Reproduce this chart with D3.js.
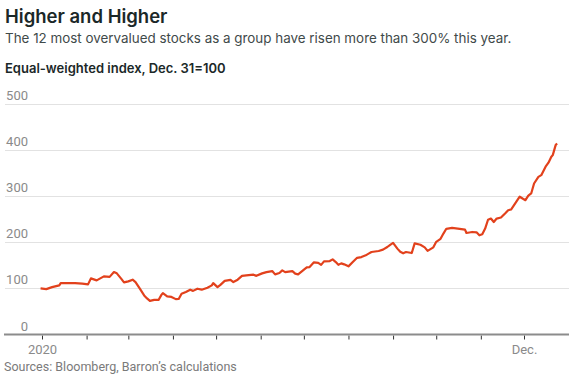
<!DOCTYPE html>
<html>
<head>
<meta charset="utf-8">
<script src="https://cdn.jsdelivr.net/npm/d3@7"></script>
<style>
  html, body { margin: 0; padding: 0; background: #fff; }
  #chart { width: 569px; height: 378px; }
</style>
</head>
<body>
<div id="chart"></div>
<script>
/* Chart data */
const dates = [
  '2019-12-31', '2020-01-04', '2020-01-08', '2020-01-13', '2020-01-14', '2020-01-18', '2020-01-24', '2020-01-29',
  '2020-02-02', '2020-02-04', '2020-02-08', '2020-02-13', '2020-02-17', '2020-02-20', '2020-02-22', '2020-02-25',
  '2020-02-27', '2020-03-01', '2020-03-04', '2020-03-06', '2020-03-09', '2020-03-12', '2020-03-14', '2020-03-16',
  '2020-03-19', '2020-03-22', '2020-03-24', '2020-03-25', '2020-03-28', '2020-03-31', '2020-04-03', '2020-04-05',
  '2020-04-07', '2020-04-10', '2020-04-13', '2020-04-15', '2020-04-18', '2020-04-21', '2020-04-25', '2020-04-28',
  '2020-04-29', '2020-05-02', '2020-05-04', '2020-05-07', '2020-05-11', '2020-05-13', '2020-05-16', '2020-05-19',
  '2020-05-22', '2020-05-27', '2020-05-29', '2020-06-02', '2020-06-05', '2020-06-09', '2020-06-11', '2020-06-14',
  '2020-06-16', '2020-06-18', '2020-06-23', '2020-06-25', '2020-06-27', '2020-06-30', '2020-07-03', '2020-07-05',
  '2020-07-08', '2020-07-11', '2020-07-13', '2020-07-15', '2020-07-19', '2020-07-21', '2020-07-23', '2020-07-25',
  '2020-07-27', '2020-07-29', '2020-08-01', '2020-08-04', '2020-08-07', '2020-08-10', '2020-08-13', '2020-08-15',
  '2020-08-17', '2020-08-22', '2020-08-25', '2020-08-28', '2020-08-30', '2020-09-01', '2020-09-04', '2020-09-06',
  '2020-09-08', '2020-09-10', '2020-09-14', '2020-09-16', '2020-09-20', '2020-09-23', '2020-09-25', '2020-09-29',
  '2020-10-01', '2020-10-04', '2020-10-06', '2020-10-08', '2020-10-12', '2020-10-16', '2020-10-21', '2020-10-22',
  '2020-10-26', '2020-10-29', '2020-10-31', '2020-11-02', '2020-11-04', '2020-11-06', '2020-11-08', '2020-11-10',
  '2020-11-12', '2020-11-15', '2020-11-18', '2020-11-20', '2020-11-22', '2020-11-25', '2020-11-28', '2020-11-30',
  '2020-12-02', '2020-12-04', '2020-12-06', '2020-12-08', '2020-12-11', '2020-12-13', '2020-12-16', '2020-12-18',
  '2020-12-20', '2020-12-21', '2020-12-23', '2020-12-24'
];

const indexValues = [
  100, 98.5, 102.8, 106.5, 111.5, 111.5, 111.5, 110.2,
  108.7, 121.7, 117.4, 126.1, 125, 135.4, 132.6, 121.1,
  113, 115.2, 118.9, 113.7, 99.3, 84.8, 78.3, 72.8,
  75, 75, 85.9, 89.8, 82.6, 81.5, 76.7, 77.2,
  88.5, 92.4, 97.2, 94.6, 99.3, 97.2, 101.5, 106.5,
  111.5, 102.8, 107.6, 116.3, 118.5, 113.7, 118.9, 127.2,
  128.3, 129.8, 127.2, 132.6, 135.4, 137.6, 130.4, 133.3,
  139.1, 135.4, 137.6, 132, 130.4, 138, 145.7, 146.3,
  156.5, 155.4, 151.1, 158.7, 159.3, 163, 157.6, 151.1,
  154.3, 152.2, 147.8, 157.2, 166.3, 168, 171.7, 175.4,
  178.9, 181.1, 184.1, 189.8, 194.6, 198.9, 186.3, 179.3,
  176.1, 178.9, 176.7, 197.8, 194.6, 189.1, 181.5, 189.1,
  201.1, 207.6, 218.9, 229.3, 231.1, 229.8, 227.6, 220.2,
  222.4, 221.7, 215.2, 217.4, 229.8, 248.9, 251.5, 244.1,
  251.5, 253.7, 263, 269.6, 271.1, 284.8, 298.9, 295,
  291.3, 301.1, 305.9, 327.6, 342, 345.7, 364.1, 372.8,
  385.4, 389.1, 410.9, 414.1
];

const yTicks = [0, 100, 200, 300, 400, 500];
const xTickDomain = ['2020-01-01', '2020-12-01'];
const xTickLabels = { '2020-01-01': '2020', '2020-12-01': 'Dec.' };

const TITLE = 'Higher and Higher';
const SUBTITLE = 'The 12 most overvalued stocks as a group have risen more than 300% this year.';
const UNIT_LABEL = 'Equal-weighted index, Dec. 31=100';
const SOURCE = 'Sources: Bloomberg, Barron\u2019s calculations';

/* Style constants */
const WIDTH = 569;
const HEIGHT = 378;
const LINE_COLOR = '#e2411c';
const HEAD_FONT = 'Inter, "Open Sans", sans-serif';
const AXIS_FONT = 'Roboto, "Liberation Sans", sans-serif';

const parseDate = d3.utcParse('%Y-%m-%d');
const fmtKey = d3.utcFormat('%Y-%m-%d');

drawChart();

function drawChart () {
  const svg = d3.select('#chart')
    .append('svg')
    .attr('width', WIDTH)
    .attr('height', HEIGHT);

  const data = dates.map((d, i) => ({ date: parseDate(d), value: indexValues[i] }));

  const x = d3.scaleUtc()
    .domain(xTickDomain.map(parseDate))
    .range([42, 524]);

  const y = d3.scaleLinear()
    .domain([0, 500])
    .range([334.5, 104]);

  drawHeader(svg);
  drawGrid(svg, y);
  drawXAxis(svg, x, y);
  drawLine(svg, data, x, y);
  drawSource(svg);
}

function drawHeader (svg) {
  svg.append('text')
    .attr('x', 5)
    .attr('y', 23)
    .style('font-family', HEAD_FONT)
    .style('font-size', '18.5px')
    .style('font-weight', 600)
    .style('fill', '#1b2828')
    .text(TITLE);

  svg.append('text')
    .attr('x', 5)
    .attr('y', 43)
    .style('font-family', HEAD_FONT)
    .style('font-size', '13.4px')
    .style('fill', '#3f4a4a')
    .text(SUBTITLE);

  svg.append('text')
    .attr('x', 5)
    .attr('y', 73)
    .style('font-family', HEAD_FONT)
    .style('font-size', '13px')
    .style('font-weight', 600)
    .style('fill', '#1b2828')
    .text(UNIT_LABEL);
}

function drawGrid (svg, y) {
  const grid = svg.append('g').attr('class', 'grid');

  grid.selectAll('line')
    .data(yTicks.filter(d => d > 0))
    .enter()
    .append('line')
    .attr('x1', 5)
    .attr('x2', WIDTH)
    .attr('y1', d => Math.round(y(d)) + 0.5)
    .attr('y2', d => Math.round(y(d)) + 0.5)
    .attr('stroke', '#e2e2e2')
    .attr('stroke-width', 1);

  grid.selectAll('text')
    .data(yTicks)
    .enter()
    .append('text')
    .attr('x', 28)
    .attr('y', d => y(d) - 4)
    .attr('text-anchor', 'end')
    .style('font-family', AXIS_FONT)
    .style('font-size', '13px')
    .style('fill', '#8a8a8a')
    .text(d => d);
}

function drawXAxis (svg, x, y) {
  const axis = d3.axisBottom(x)
    .ticks(d3.utcMonth.every(1))
    .tickSize(4)
    .tickFormat(d => xTickLabels[fmtKey(d)] || '');

  const g = svg.append('g')
    .attr('transform', `translate(0,${y(0) + 1})`)
    .call(axis);

  g.select('.domain').remove();
  g.selectAll('.tick line')
    .attr('stroke', '#333')
    .attr('stroke-width', 1);
  g.selectAll('.tick text')
    .attr('y', 9)
    .style('font-family', AXIS_FONT)
    .style('font-size', '13px')
    .style('fill', '#8a8a8a');

  // baseline
  svg.append('line')
    .attr('x1', 4)
    .attr('x2', WIDTH)
    .attr('y1', y(0))
    .attr('y2', y(0))
    .attr('stroke', '#8c8c8c')
    .attr('stroke-width', 2);
}

function drawLine (svg, data, x, y) {
  const line = d3.line()
    .x(d => x(d.date))
    .y(d => y(d.value));

  svg.append('path')
    .datum(data)
    .attr('fill', 'none')
    .attr('stroke', LINE_COLOR)
    .attr('stroke-width', 2.2)
    .attr('stroke-linejoin', 'round')
    .attr('d', line);
}

function drawSource (svg) {
  svg.append('text')
    .attr('x', 4)
    .attr('y', 371)
    .style('font-family', AXIS_FONT)
    .style('font-size', '12.5px')
    .style('fill', '#7a7a7a')
    .text(SOURCE);
}
</script>
</body>
</html>
